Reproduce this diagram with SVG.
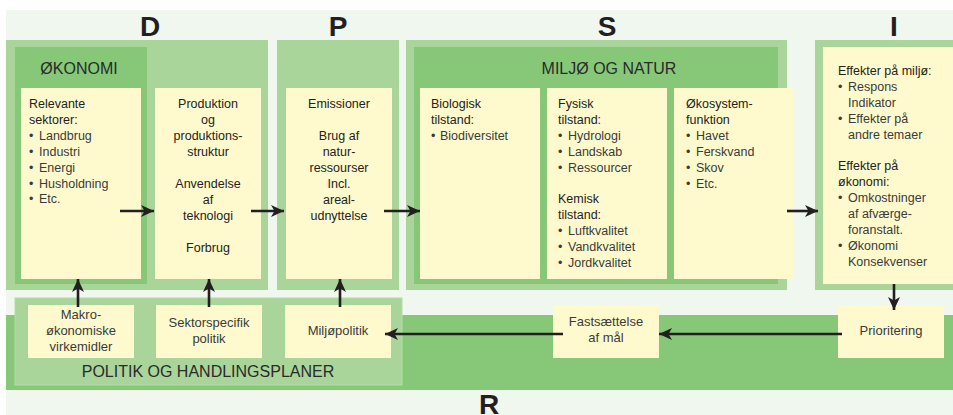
<svg xmlns="http://www.w3.org/2000/svg" width="953" height="415" viewBox="0 0 953 415">
<defs>
<style>
.bg{fill:#eff7ee}
.lg{fill:#a9d59b}
.mg{fill:#86c878}
.y{fill:#fffacd}
text{font-family:"Liberation Sans",Arial,sans-serif;fill:#3a3a3a}
.t{font-size:12.5px}
.h{font-size:12.5px;fill:#222}
.c{text-anchor:middle}
.p{font-size:13px;text-anchor:middle}
.big{font-size:16px;fill:#2a2a2a}
.L{font-size:28px;font-weight:bold;fill:#231f20;text-anchor:middle}
.ar{stroke:#231f20;stroke-width:2.6;fill:none;marker-end:url(#ah)}
</style>
<marker id="ah" markerUnits="userSpaceOnUse" markerWidth="14" markerHeight="12" refX="13" refY="6" orient="auto">
<path d="M0,0 L13,6 L0,12 L3.5,6 Z" fill="#231f20"/>
</marker>
</defs>
<rect x="0" y="0" width="953" height="415" fill="#ffffff"/>
<rect class="bg" x="6" y="10" width="947" height="405"/>

<g id="letters">
<text class="L" x="150" y="36">D</text>
<text class="L" x="338" y="36">P</text>
<text class="L" x="607" y="36">S</text>
<text class="L" x="894" y="36">I</text>
<text class="L" x="489" y="414">R</text>
</g>

<g id="R-band"><rect class="mg" x="6" y="315" width="947" height="75"/></g>

<g id="politik">
<rect class="lg" x="15" y="298" width="387" height="87" stroke="#b3dca6" stroke-width="1"/>
<text class="big c" x="208" y="377">POLITIK OG HANDLINGSPLANER</text>
</g>

<g id="D-panel">
<rect class="lg" x="6" y="40" width="262" height="250"/>
<rect class="mg" x="15" y="47" width="132" height="237"/>
<text class="big c" x="79" y="74">ØKONOMI</text>
</g>
<g id="P-panel"><rect class="lg" x="277" y="40" width="122" height="250"/></g>
<g id="S-panel">
<rect class="lg" x="406" y="40" width="381" height="250"/>
<rect class="mg" x="414" y="47" width="364" height="237"/>
<text class="big c" x="609" y="74">MILJØ OG NATUR</text>
</g>
<g id="I-panel"><rect class="lg" x="815" y="40" width="138" height="250"/></g>

<g id="relevante">
<rect class="y" x="21" y="88" width="120" height="191"/>
<text class="h" x="29" y="108">Relevante</text>
<text class="h" x="29" y="124">sektorer:</text>
<text class="t"><tspan x="29" y="140">•</tspan><tspan x="39" y="140">Landbrug</tspan></text>
<text class="t"><tspan x="29" y="156">•</tspan><tspan x="39" y="156">Industri</tspan></text>
<text class="t"><tspan x="29" y="172">•</tspan><tspan x="39" y="172">Energi</tspan></text>
<text class="t"><tspan x="29" y="188">•</tspan><tspan x="39" y="188">Husholdning</tspan></text>
<text class="t"><tspan x="29" y="203">•</tspan><tspan x="39" y="203">Etc.</tspan></text>
</g>

<g id="produktion">
<rect class="y" x="155" y="88" width="106" height="191"/>
<text class="h c" x="208" y="108">Produktion</text>
<text class="h c" x="208" y="124">og</text>
<text class="h c" x="208" y="140">produktions-</text>
<text class="h c" x="208" y="156">struktur</text>
<text class="h c" x="208" y="188">Anvendelse</text>
<text class="h c" x="208" y="204">af</text>
<text class="h c" x="208" y="220">teknologi</text>
<text class="h c" x="208" y="252">Forbrug</text>
</g>

<g id="emissioner">
<rect class="y" x="286" y="88" width="106" height="191"/>
<text class="h c" x="339" y="108">Emissioner</text>
<text class="h c" x="339" y="140">Brug af</text>
<text class="h c" x="339" y="156">natur-</text>
<text class="h c" x="339" y="172">ressourser</text>
<text class="h c" x="339" y="188">Incl.</text>
<text class="h c" x="339" y="204">areal-</text>
<text class="h c" x="339" y="220">udnyttelse</text>
</g>

<g id="biologisk">
<rect class="y" x="420" y="88" width="120" height="191"/>
<text class="h" x="431" y="108">Biologisk</text>
<text class="h" x="431" y="124">tilstand:</text>
<text class="t"><tspan x="431" y="140">•</tspan><tspan x="440" y="140">Biodiversitet</tspan></text>
</g>

<g id="fysisk">
<rect class="y" x="547" y="88" width="120" height="191"/>
<text class="h" x="558" y="108">Fysisk</text>
<text class="h" x="558" y="124">tilstand:</text>
<text class="t"><tspan x="558" y="140">•</tspan><tspan x="568" y="140">Hydrologi</tspan></text>
<text class="t"><tspan x="558" y="156">•</tspan><tspan x="568" y="156">Landskab</tspan></text>
<text class="t"><tspan x="558" y="172">•</tspan><tspan x="568" y="172">Ressourcer</tspan></text>
<text class="h" x="558" y="203">Kemisk</text>
<text class="h" x="558" y="219">tilstand:</text>
<text class="t"><tspan x="558" y="235">•</tspan><tspan x="568" y="235">Luftkvalitet</tspan></text>
<text class="t"><tspan x="558" y="251">•</tspan><tspan x="568" y="251">Vandkvalitet</tspan></text>
<text class="t"><tspan x="558" y="267">•</tspan><tspan x="568" y="267">Jordkvalitet</tspan></text>
</g>

<g id="oekosystem">
<rect class="y" x="674" y="88" width="120" height="191"/>
<text class="h" x="686" y="108">Økosystem-</text>
<text class="h" x="686" y="124">funktion</text>
<text class="t"><tspan x="686" y="140">•</tspan><tspan x="696" y="140">Havet</tspan></text>
<text class="t"><tspan x="686" y="156">•</tspan><tspan x="696" y="156">Ferskvand</tspan></text>
<text class="t"><tspan x="686" y="172">•</tspan><tspan x="696" y="172">Skov</tspan></text>
<text class="t"><tspan x="686" y="188">•</tspan><tspan x="696" y="188">Etc.</tspan></text>
</g>

<g id="effekter">
<rect class="y" x="823" y="47" width="130" height="237"/>
<text class="h" x="838" y="75">Effekter på miljø:</text>
<text class="t"><tspan x="838" y="91">•</tspan><tspan x="848" y="91">Respons</tspan></text>
<text class="t" x="848" y="107">Indikator</text>
<text class="t"><tspan x="838" y="123">•</tspan><tspan x="848" y="123">Effekter på</tspan></text>
<text class="t" x="848" y="139">andre temaer</text>
<text class="h" x="838" y="170">Effekter på</text>
<text class="h" x="838" y="186">økonomi:</text>
<text class="t"><tspan x="838" y="202">•</tspan><tspan x="848" y="202">Omkostninger</tspan></text>
<text class="t" x="848" y="218">af afværge-</text>
<text class="t" x="848" y="234">foranstalt.</text>
<text class="t"><tspan x="838" y="250">•</tspan><tspan x="848" y="250">Økonomi</tspan></text>
<text class="t" x="848" y="266">Konsekvenser</text>
</g>

<g id="makro">
<rect class="y" x="28" y="305" width="106" height="53"/>
<text class="p" x="81" y="319">Makro-</text>
<text class="p" x="81" y="335">økonomiske</text>
<text class="p" x="81" y="351">virkemidler</text>
</g>
<g id="sektor">
<rect class="y" x="156" y="305" width="106" height="53"/>
<text class="p" x="209" y="327">Sektorspecifik</text>
<text class="p" x="209" y="343">politik</text>
</g>
<g id="miljoepolitik">
<rect class="y" x="285" y="305" width="106" height="53"/>
<text class="p" x="338" y="335">Miljøpolitik</text>
</g>
<g id="fastsaettelse">
<rect class="y" x="553" y="305" width="106" height="53"/>
<text class="p" x="606" y="326">Fastsættelse</text>
<text class="p" x="606" y="342">af mål</text>
</g>
<g id="prioritering">
<rect class="y" x="838" y="305" width="106" height="53"/>
<text class="p" x="891" y="335">Prioritering</text>
</g>

<g id="connectors">
<line class="ar" x1="120" y1="211" x2="154" y2="211"/>
<line class="ar" x1="251" y1="211" x2="284" y2="211"/>
<line class="ar" x1="384" y1="211" x2="420" y2="211"/>
<line class="ar" x1="787" y1="211" x2="818" y2="211"/>
<line class="ar" x1="78" y1="307" x2="78" y2="279"/>
<line class="ar" x1="209" y1="307" x2="209" y2="279"/>
<line class="ar" x1="340" y1="307" x2="340" y2="279"/>
<line class="ar" x1="894" y1="284" x2="894" y2="310"/>
<line class="ar" x1="842" y1="334" x2="659" y2="334"/>
<line class="ar" x1="563" y1="334" x2="385" y2="334"/>
</g>
</svg>
